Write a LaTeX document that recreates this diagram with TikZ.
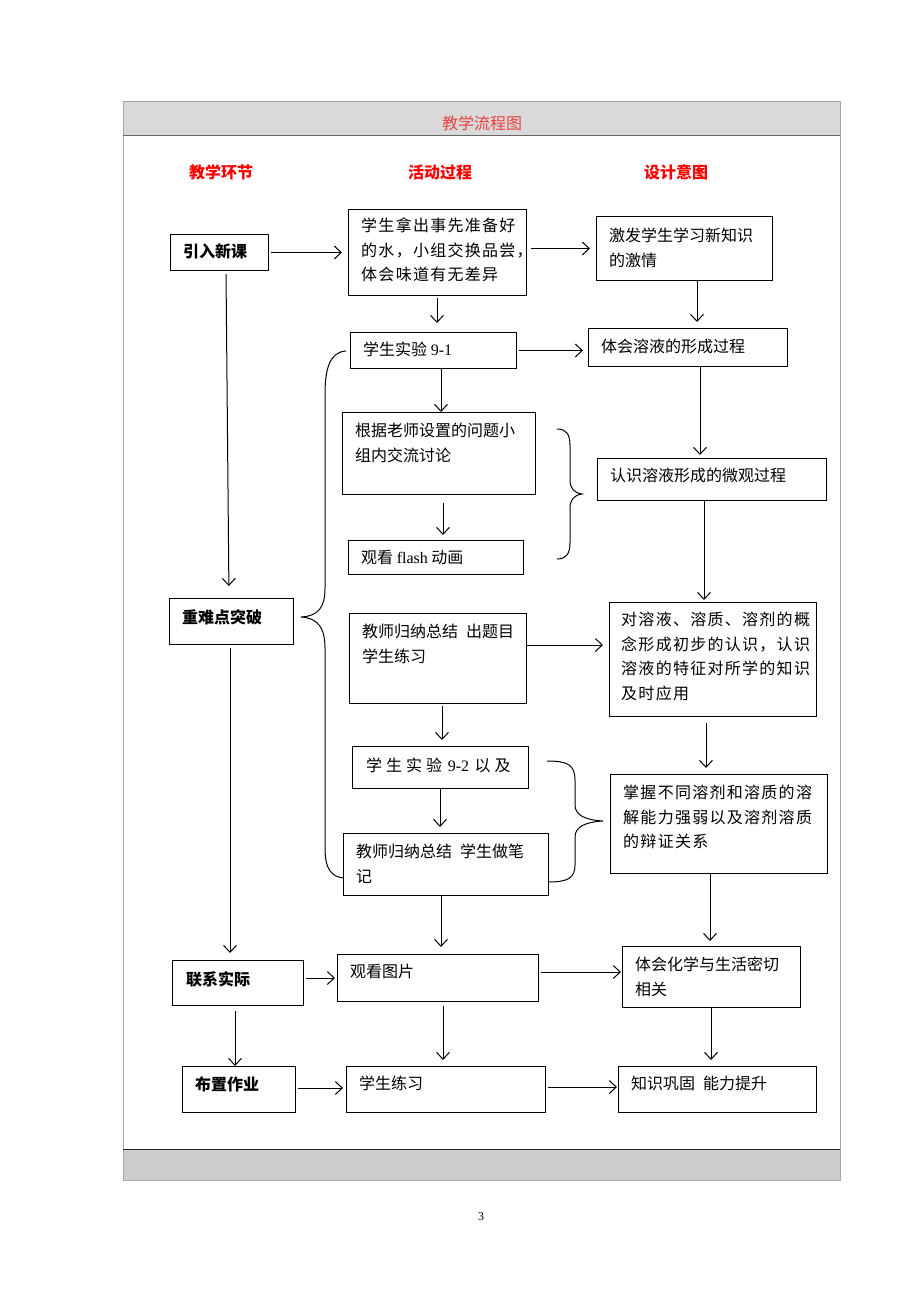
\documentclass[tikz,border=0pt]{standalone}
\usepackage{fontspec}
\setmainfont{Liberation Serif}
\newfontfamily\cjk{Noto Sans CJK SC}
\newfontfamily\cjksp[LetterSpace=8]{Noto Sans CJK SC}
\usetikzlibrary{arrows.meta}

\definecolor{titlered}{RGB}{232,64,64}
\definecolor{headred}{RGB}{255,0,0}
\definecolor{bandgray}{RGB}{217,217,217}
\definecolor{footgray}{RGB}{204,204,204}

\tikzset{
  box/.style={draw, line width=1pt, anchor=north west, inner sep=0pt},
  txt/.style={anchor=north west, align=left, inner sep=0pt, font=\cjk\fontsize{16}{24.5}\selectfont},
  boldtxt/.style={txt, font=\cjk\bfseries\fontsize{16}{24.5}\selectfont},
  arr/.style={-{Straight Barb[length=7pt,width=13pt]}, line width=1pt},
  brace/.style={line width=1pt},
}

\begin{document}
\begin{tikzpicture}[x=1pt, y=-1pt]

    \useasboundingbox (0,0) rectangle (920,1302);

    % 1. Tabelle mit Kopf- und Fusszeile
    \fill[bandgray] (123,101) rectangle (840,135);
    \fill[footgray] (123,1149) rectangle (840,1180);
    \draw[gray!70, line width=1pt] (123,101) rectangle (840,1180);
    \draw[black!60, line width=1pt] (123,135) -- (840,135);
    \draw[black!85, line width=1pt] (123,1149) -- (840,1149);
    \node[font=\cjk\fontsize{16}{18}\selectfont, text=titlered] (title) at (482,123) {教学流程图};

    % 2. Spaltenkoepfe
    \node[font=\cjk\bfseries\fontsize{16}{18}\selectfont, text=headred] (h1) at (221,172) {教学环节};
    \node[font=\cjk\bfseries\fontsize{16}{18}\selectfont, text=headred] (h2) at (440,172) {活动过程};
    \node[font=\cjk\bfseries\fontsize{16}{18}\selectfont, text=headred] (h3) at (676,172) {设计意图};

    % 3. Linke Spalte (Unterrichtsphasen)
    \node[box, minimum width=98, minimum height=36] (L1) at (170,234) {};
    \node[boldtxt] (L1t) at ([shift={(13,10)}]L1.north west) {引入新课};
    \node[box, minimum width=124, minimum height=46] (L2) at (169,598) {};
    \node[boldtxt] (L2t) at ([shift={(13,11)}]L2.north west) {重难点突破};
    \node[box, minimum width=131, minimum height=45] (L3) at (172,960) {};
    \node[boldtxt] (L3t) at ([shift={(14,11)}]L3.north west) {联系实际};
    \node[box, minimum width=113, minimum height=46] (L4) at (182,1066) {};
    \node[boldtxt] (L4t) at ([shift={(13,11)}]L4.north west) {布置作业};

    % 4. Mittlere Spalte (Aktivitaeten)
    \node[box, minimum width=178, minimum height=86] (M1) at (348,209) {};
    \node[txt, font=\cjksp\fontsize{16}{24.5}\selectfont] (M1t) at ([shift={(13,9)}]M1.north west) {学生拿出事先准备好\\的水，小组交换品尝，\\体会味道有无差异};
    \node[box, minimum width=166, minimum height=36] (M2) at (350,332) {};
    \node[txt] (M2t) at ([shift={(13,10)}]M2.north west) {学生实验 {\rmfamily 9-1}};
    \node[box, minimum width=193, minimum height=82] (M3) at (342,412) {};
    \node[txt] (M3t) at ([shift={(13,11)}]M3.north west) {根据老师设置的问题小\\组内交流讨论};
    \node[box, minimum width=175, minimum height=34] (M4) at (348,540) {};
    \node[txt] (M4t) at ([shift={(13,10)}]M4.north west) {观看 {\rmfamily flash} 动画};
    \node[box, minimum width=177, minimum height=90] (M5) at (349,613) {};
    \node[txt] (M5t) at ([shift={(13,11)}]M5.north west) {教师归纳总结\hspace{0.5em}出题目\\学生练习};
    \node[box, minimum width=176, minimum height=42] (M6) at (352,746) {};
    \node[txt] (M6t) at ([shift={(14,12)}]M6.north west) {学\hspace{4pt}生\hspace{4pt}实\hspace{4pt}验 \hspace{2pt}{\rmfamily 9-2} \hspace{2pt}以\hspace{4pt}及};
    \node[box, minimum width=205, minimum height=62] (M7) at (343,833) {};
    \node[txt] (M7t) at ([shift={(13,11)}]M7.north west) {教师归纳总结\hspace{0.5em}学生做笔\\记};
    \node[box, minimum width=201, minimum height=47] (M8) at (337,954) {};
    \node[txt] (M8t) at ([shift={(13,10)}]M8.north west) {观看图片};
    \node[box, minimum width=199, minimum height=46] (M9) at (346,1066) {};
    \node[txt] (M9t) at ([shift={(13,10)}]M9.north west) {学生练习};

    % 5. Rechte Spalte (Absichten)
    \node[box, minimum width=176, minimum height=64] (R1) at (596,216) {};
    \node[txt] (R1t) at ([shift={(13,12)}]R1.north west) {激发学生学习新知识\\的激情};
    \node[box, minimum width=199, minimum height=38] (R2) at (588,328) {};
    \node[txt] (R2t) at ([shift={(13,11)}]R2.north west) {体会溶液的形成过程};
    \node[box, minimum width=229, minimum height=42] (R3) at (597,458) {};
    \node[txt] (R3t) at ([shift={(13,10)}]R3.north west) {认识溶液形成的微观过程};
    \node[box, minimum width=207, minimum height=114] (R4) at (609,602) {};
    \node[txt, font=\cjksp\fontsize{16}{24.5}\selectfont] (R4t) at ([shift={(12,10)}]R4.north west) {对溶液、溶质、溶剂的概\\念形成初步的认识，认识\\溶液的特征对所学的知识\\及时应用};
    \node[box, minimum width=217, minimum height=99] (R5) at (610,774) {};
    \node[txt, font=\cjksp\fontsize{16}{24.5}\selectfont] (R5t) at ([shift={(13,11)}]R5.north west) {掌握不同溶剂和溶质的溶\\解能力强弱以及溶剂溶质\\的辩证关系};
    \node[box, minimum width=178, minimum height=61] (R6) at (622,946) {};
    \node[txt] (R6t) at ([shift={(13,11)}]R6.north west) {体会化学与生活密切\\相关};
    \node[box, minimum width=198, minimum height=46] (R7) at (618,1066) {};
    \node[txt] (R7t) at ([shift={(13,10)}]R7.north west) {知识巩固\hspace{0.5em}能力提升};

    % 6. Pfeile
    \draw[arr, shorten <=2pt, shorten >=6pt] (L1.east) -- (L1.east -| M1.west);
    \draw[arr, shorten <=4pt, shorten >=6pt] (M1.east |- R1.west) -- (R1.west);
    \draw[arr, shorten <=2pt, shorten >=9pt] (M1.south -| 437,0) -- (M2.north -| 437,0);
    \draw[arr, shorten >=6pt] (R1.south -| 697,0) -- (R2.north -| 697,0);
    \draw[arr, shorten <=2pt, shorten >=5pt] (M2.east) -- (M2.east -| R2.west);
    \draw[arr] (M2.south -| 441,0) -- (M3.north -| 441,0);
    \draw[arr, shorten >=3pt] (R2.south -| 700,0) -- (R3.north -| 700,0);
    \draw[arr, shorten <=8pt, shorten >=5pt] (M3.south -| 443,0) -- (M4.north -| 443,0);
    \draw[arr, shorten >=2pt] (R3.south -| 704,0) -- (R4.north -| 704,0);
    \draw[arr, shorten >=6pt] (M5.east |- 0,645) -- (R4.west |- 0,645);
    \draw[arr, shorten <=2pt, shorten >=6pt] (M5.south -| 442,0) -- (M6.north -| 442,0);
    \draw[arr, shorten <=6pt, shorten >=6pt] (R4.south -| 706,0) -- (R5.north -| 706,0);
    \draw[arr, shorten >=6pt] (M6.south -| 440,0) -- (M7.north -| 440,0);
    \draw[arr, shorten >=7pt] (M7.south -| 441,0) -- (M8.north -| 441,0);
    \draw[arr, shorten >=5pt] (R5.south -| 710,0) -- (R6.north -| 710,0);
    \draw[arr, shorten <=3pt, shorten >=12pt] (L1.south -| 226,0) -- (L2.north -| 229,0);
    \draw[arr, shorten <=3pt, shorten >=7pt] (L2.south -| 230,0) -- (L3.north -| 230,0);
    \draw[arr, shorten <=2pt, shorten >=2pt] (L3.east |- 0,978) -- (M8.west |- 0,978);
    \draw[arr, shorten <=2pt, shorten >=1pt] (M8.east |- 0,972) -- (R6.west |- 0,972);
    \draw[arr, shorten <=5pt] (L3.south -| 235,0) -- (L4.north -| 235,0);
    \draw[arr, shorten <=4pt, shorten >=6pt] (M8.south -| 443,0) -- (M9.north -| 443,0);
    \draw[arr, shorten >=6pt] (R6.south -| 711,0) -- (R7.north -| 711,0);
    \draw[arr, shorten <=2pt, shorten >=3pt] (L4.east |- 0,1088) -- (M9.west |- 0,1088);
    \draw[arr, shorten <=2pt, shorten >=1pt] (M9.east |- 0,1087) -- (R7.west |- 0,1087);

    % 7. Geschweifte Klammern
    \draw[brace] (346,351) .. controls (330,352) and (325,368) .. (325,395) -- (325,588)
        .. controls (325,608) and (318,616) .. (301,617)
        .. controls (318,618) and (325,628) .. (325,648) -- (325,848)
        .. controls (325,870) and (332,877) .. (344,878);
    \draw[brace] (557,429) .. controls (566,429) and (570,434) .. (570,445) -- (570,480)
        .. controls (570,488) and (574,493) .. (582,494)
        .. controls (574,495) and (570,500) .. (570,508) -- (570,543)
        .. controls (570,554) and (566,559) .. (557,559);
    \draw[brace] (547,761) .. controls (568,761) and (575,765) .. (575,780) -- (575,805)
        .. controls (575,815) and (585,820) .. (603,821)
        .. controls (585,822) and (575,827) .. (575,837) -- (575,865)
        .. controls (575,878) and (568,882) .. (548,882);

    % 8. Seitenzahl
    \node[font=\fontsize{12}{14}\selectfont] (page) at (481,1217) {3};

\end{tikzpicture}
\end{document}
